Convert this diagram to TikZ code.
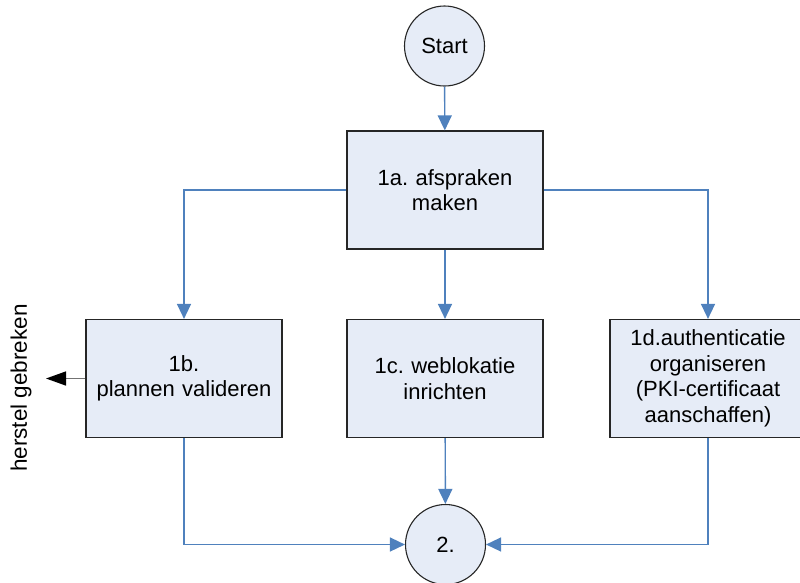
\documentclass[tikz,border=0pt]{standalone}
\usepackage{fontspec}
\setmainfont{Liberation Sans}
\usepackage{tikz}
\usetikzlibrary{arrows.meta}
\frenchspacing
\definecolor{stepfill}{RGB}{230,236,247}
\definecolor{flowblue}{RGB}{79,129,189}
\tikzset{
    step-box/.style = {draw=black!85, fill=stepfill, line width=1.2pt, rectangle, minimum width=196pt, minimum height=118pt, text width=186pt, align=center, inner sep=0pt, font=\fontsize{22}{25.5}\selectfont},
    end-circle/.style = {draw=black!85, fill=stepfill, line width=1.1pt, circle, minimum size=80pt, inner sep=0pt, font=\fontsize{22}{25.5}\selectfont},
    flow-line/.style = {draw=flowblue, line width=1.4pt, -{Triangle[length=15pt,width=14pt]}},
}

\begin{document}
\begin{tikzpicture}[x=1pt,y=-1pt]
\useasboundingbox (0,0) rectangle (800,582);
\node [end-circle] (start) at (444.5,46) {Start};
\node [step-box] (afspraken) at (445,190) {1a. afspraken\\maken};
\node [step-box] (valideren) at (184,378.5) {1b.\\plannen valideren};
\node [step-box] (weblokatie) at (445,378.5) {1c. weblokatie\\inrichten};
\node [step-box] (authenticatie) at (708,378.5) {1d.authenticatie\\organiseren\\(PKI-certificaat\\aanschaffen)};
\node [end-circle] (stap2) at (445.5,544.5) {2.};
\node [rotate=90, font=\fontsize{22.5}{25.5}\selectfont, inner sep=0pt] (herstel) at (21,388) {herstel gebreken};
\coordinate (herstel-tip) at (46,378.5);

\draw [flow-line] (start) -- (afspraken);
\draw [flow-line] (afspraken) -- (weblokatie);
\draw [flow-line] (afspraken.west) -| (valideren.north);
\draw [flow-line] (afspraken.east) -| (authenticatie.north);
\draw [flow-line] (weblokatie) -- (stap2);
\draw [flow-line] (valideren.south) |- (stap2.west);
\draw [flow-line] (authenticatie.south) |- (stap2.east);
\draw [draw=black!55, line width=1.4pt, -{Triangle[length=20pt,width=14pt,color=black]}] (valideren.west) -- (herstel-tip);
\end{tikzpicture}
\end{document}
